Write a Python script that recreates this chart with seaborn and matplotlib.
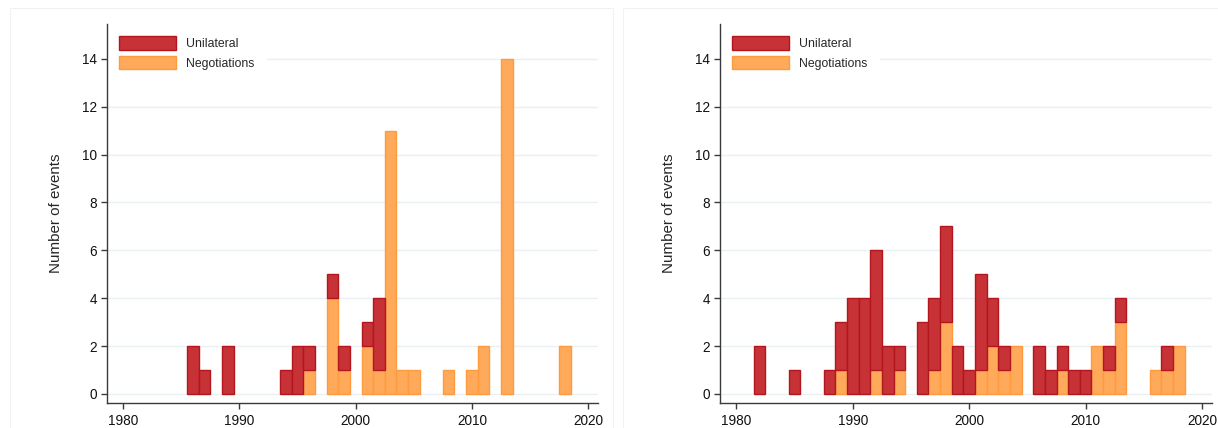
import matplotlib
matplotlib.use("Agg")
import matplotlib.pyplot as plt
from matplotlib.patches import Patch, Rectangle
import numpy as np
import pandas as pd
import seaborn as sns

# ---- event counts per year -------------------------------------------------
left_years = [1986, 1987, 1989, 1994, 1995, 1996, 1998, 1999, 2001, 2002,
              2003, 2004, 2005, 2008, 2010, 2011, 2013, 2018]
left_unilateral = [2, 1, 2, 1, 2, 1, 1, 1, 1, 3,
                   0, 0, 0, 0, 0, 0, 0, 0]
left_negotiations = [0, 0, 0, 0, 0, 1, 4, 1, 2, 1,
                     11, 1, 1, 1, 1, 2, 14, 2]

right_years = [1982, 1985, 1988, 1989, 1990, 1991, 1992, 1993, 1994, 1996,
               1997, 1998, 1999, 2000, 2001, 2002, 2003, 2004, 2006, 2007,
               2008, 2009, 2010, 2011, 2012, 2013, 2016, 2017, 2018]
right_unilateral = [2, 1, 1, 2, 4, 4, 5, 2, 1, 3,
                    3, 4, 2, 1, 4, 2, 1, 0, 2, 1,
                    1, 1, 1, 0, 1, 1, 0, 1, 0]
right_negotiations = [0, 0, 0, 1, 0, 0, 1, 0, 1, 0,
                      1, 3, 0, 0, 1, 2, 1, 2, 0, 0,
                      1, 0, 0, 2, 1, 3, 1, 1, 2]

series_labels = ["Unilateral", "Negotiations"]
y_ticks = [0, 2, 4, 6, 8, 10, 12, 14]
x_ticks = [1980, 1990, 2000, 2010, 2020]

# ---- styling ---------------------------------------------------------------
RED, RED_EDGE = "#C63236", "#B4161E"
ORANGE, ORANGE_EDGE = "#FFA95A", "#FF9A3E"
GRID = "#EAF1F2"
AXIS = "#3a3a3a"

sns.set_style("white")
plt.rcParams["font.family"] = ["Liberation Sans", "DejaVu Sans"]

W, H = 1218, 428
fig = plt.figure(figsize=(W / 100, H / 100), dpi=100)


def long_frame(years, unilateral, negotiations):
    rows = []
    for y, u, n in zip(years, unilateral, negotiations):
        rows.append({"year": y, "type": series_labels[0], "count": u})
        rows.append({"year": y, "type": series_labels[1], "count": n})
    return pd.DataFrame(rows)


def draw_panel(ax, years, unilateral, negotiations):
    df = long_frame(years, unilateral, negotiations)
    sns.histplot(data=df, x="year", weights="count", hue="type",
                 hue_order=series_labels, multiple="stack", discrete=True,
                 palette={series_labels[0]: RED, series_labels[1]: ORANGE},
                 alpha=1, linewidth=1.0, legend=False, ax=ax)
    for p in ax.patches:
        fc = p.get_facecolor()
        if fc[1] < 0.4:
            p.set_edgecolor(RED_EDGE)
        else:
            p.set_edgecolor(ORANGE_EDGE)
        if p.get_height() == 0:
            p.set_visible(False)

    ax.set_xlim(1978.6, 2020.85)
    ax.set_ylim(-0.38, 15.46)
    ax.set_xticks(x_ticks)
    ax.set_yticks(y_ticks)
    ax.set_xlabel("")
    ax.set_ylabel("Number of events", fontsize=10.9, labelpad=14)
    ax.yaxis.grid(True, color=GRID, linewidth=1.0)
    ax.xaxis.grid(False)
    ax.set_axisbelow(True)
    for side in ("top", "right"):
        ax.spines[side].set_visible(False)
    for side in ("left", "bottom"):
        ax.spines[side].set_color(AXIS)
        ax.spines[side].set_linewidth(1.0)
        ax.spines[side].set_zorder(6)
    ax.tick_params(axis="both", which="major", direction="out", length=4,
                   width=1.0, color=AXIS, labelsize=9.8, labelcolor="#111111",
                   bottom=True, left=True)
    ax.tick_params(axis="x", pad=4)
    ax.tick_params(axis="y", pad=3)

    handles = [Patch(facecolor=RED, edgecolor=RED_EDGE, linewidth=1.0),
               Patch(facecolor=ORANGE, edgecolor=ORANGE_EDGE, linewidth=1.0)]
    leg = ax.legend(handles, series_labels, loc="upper left",
                    bbox_to_anchor=(0, 1), borderaxespad=0, borderpad=1.0,
                    fontsize=8.8, handlelength=4.66, handleheight=1.31,
                    labelspacing=0.49, handletextpad=0.82, frameon=True,
                    fancybox=False, framealpha=1)
    leg.get_frame().set_facecolor("white")
    leg.get_frame().set_edgecolor("none")
    leg.set_zorder(5)


# faint outer frames around each panel
for x0, x1 in ((10, 613), (623, 1236)):
    fig.add_artist(Rectangle((x0 / W, -0.02), (x1 - x0) / W, 1 - 8 / H + 0.02,
                             transform=fig.transFigure, fill=False,
                             edgecolor="#F2F2F2", linewidth=0.8))

ax_left = fig.add_axes([107 / W, (H - 403) / H, 491 / W, 379 / H])
ax_right = fig.add_axes([720 / W, (H - 403) / H, 492 / W, 379 / H])

draw_panel(ax_left, left_years, left_unilateral, left_negotiations)
draw_panel(ax_right, right_years, right_unilateral, right_negotiations)

fig.savefig("out.png", dpi=100, facecolor="white")
